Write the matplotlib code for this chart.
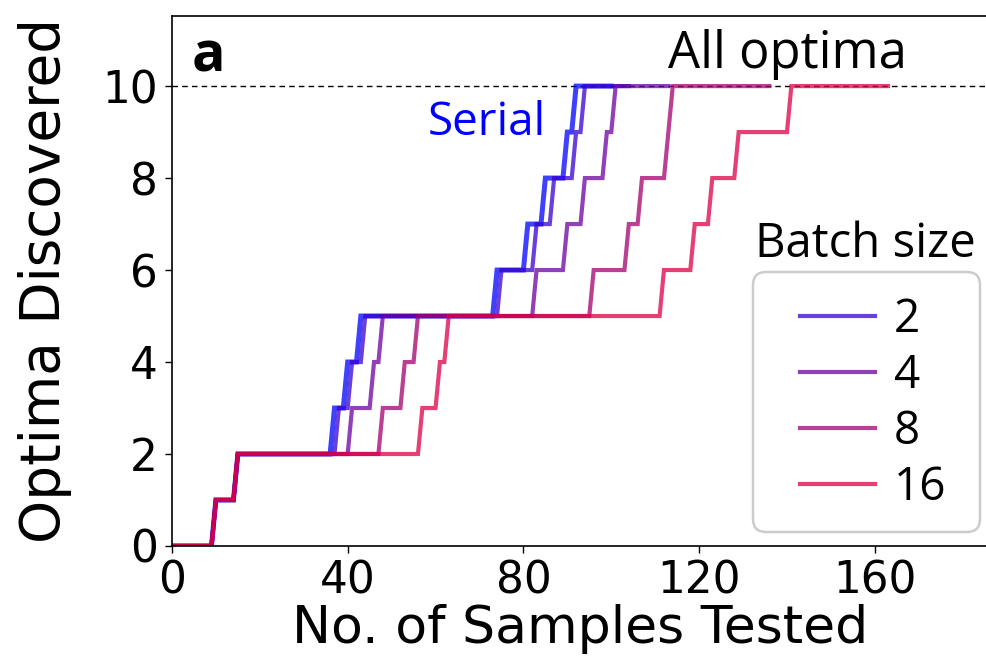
import numpy as np
import matplotlib
matplotlib.use("Agg")
import matplotlib.pyplot as plt
from matplotlib.patches import FancyBboxPatch

# sample index at which the k-th optimum was found, and last sample tested
series_names = ["Serial", "2", "4", "8", "16"]
found_at = {
    "Serial": [10, 15, 37, 40, 43, 74, 81, 85, 90, 92],
    "2": [10, 15, 38, 41, 44, 75, 83, 87, 92, 94],
    "4": [10, 15, 41, 46, 48, 83, 90, 94, 99, 101],
    "8": [10, 15, 48, 53, 56, 96, 104, 107, 113, 114],
    "16": [10, 15, 57, 61, 63, 112, 119, 123, 129, 141],
}
last_sample = {"Serial": 100, "2": 104, "4": 113, "8": 136, "16": 163}
colors = {
    "Serial": "#0000ff",
    "2": "#3600cf",
    "4": "#6c009f",
    "8": "#a20070",
    "16": "#dc0045",
}
n_optima = 10

fig = plt.figure(figsize=(9.86, 6.69), dpi=100)
ax = fig.add_axes([0.1744, 0.1839, 0.8287, 0.7926])

ax.axhline(n_optima, color="k", lw=1, ls=(0, (4, 3)), zorder=1)

handles = []
for name in series_names:
    samples = np.arange(0, last_sample[name] + 1)
    count = np.searchsorted(found_at[name], samples, side="right")
    lw = 3.6 if name == "Serial" else 3.0
    line, = ax.plot(samples, count, color=colors[name], alpha=0.75, lw=lw,
                    solid_joinstyle="miter", zorder=2)
    if name != "Serial":
        line.set_label(name)
        handles.append(line)

ax.set_xlim(0, 186)
ax.set_ylim(0, 11.53)
ax.set_xticks([0, 40, 80, 120, 160])
ax.set_yticks([0, 2, 4, 6, 8, 10])
ax.tick_params(labelsize=31.5, length=5, width=1, pad=5)
for s in ax.spines.values():
    s.set_linewidth(1.2)
ax.set_xlabel("No. of Samples Tested", fontsize=37.5, labelpad=1)
ax.set_ylabel("Optima Discovered", fontsize=39.5, labelpad=22)

label_font = dict(family=["Open Sans", "DejaVu Sans"])
ax.text(4.5, 10.31, "a", fontsize=40, fontweight="bold", **label_font)
ax.text(112.9, 10.39, "All optima", fontsize=36.5, **label_font)
ax.text(58.3, 8.93, "Serial", fontsize=33, color="#0000ff", **label_font)

inch = fig.dpi_scale_trans
fig.text(7.55, 6.69 - 2.57, "Batch size", fontsize=34, transform=inch,
         va="baseline", **label_font)
frame = FancyBboxPatch((7.53, 6.69 - 5.32), 2.27, 2.60,
                       boxstyle="round,pad=0,rounding_size=0.13",
                       transform=inch, facecolor="none",
                       edgecolor="#cccccc", lw=1.8)
fig.add_artist(frame)

fig.legend(handles=handles, loc="upper left",
           bbox_to_anchor=(8.0, 6.69 - 2.97), bbox_transform=inch,
           frameon=False, borderpad=0, borderaxespad=0,
           handlelength=1.63, handletextpad=0.42, labelspacing=0.22,
           prop=dict(family=["Open Sans", "DejaVu Sans"], size=33))

fig.savefig("out.png", dpi=100)
